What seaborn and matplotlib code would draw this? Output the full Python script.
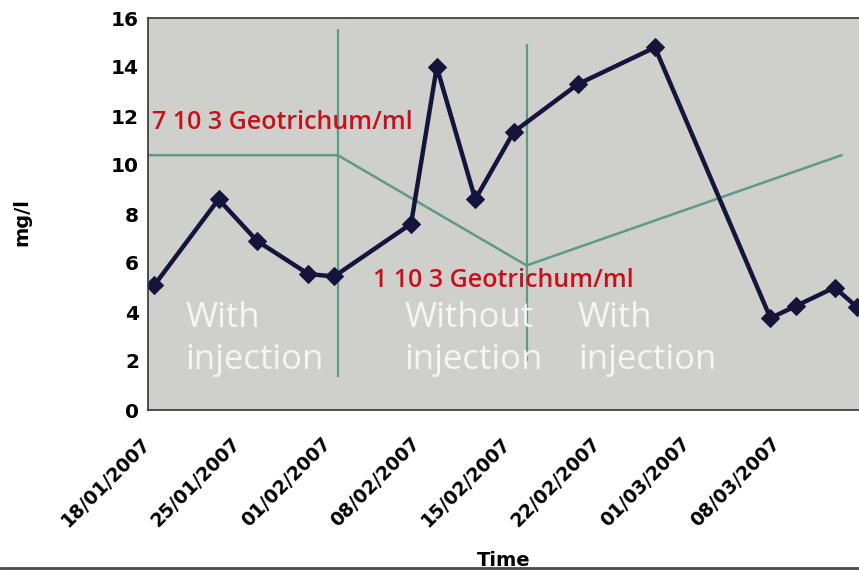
import pandas as pd
import matplotlib
matplotlib.use('Agg')
from matplotlib import pyplot as plt
from matplotlib.lines import Line2D
import seaborn as sns

# measured concentration (mg/l)
sample_dates = ['2007-01-18 12:00', '2007-01-23 12:00', '2007-01-26 12:00', '2007-01-30 12:00',
                '2007-02-01 12:00', '2007-02-07 12:00', '2007-02-09 12:00', '2007-02-12 12:00',
                '2007-02-15 12:00', '2007-02-20 12:00', '2007-02-26 12:00', '2007-03-07 12:00',
                '2007-03-09 12:00', '2007-03-12 12:00', '2007-03-14 06:00']
mgl = [5.1, 8.6, 6.9, 5.55, 5.45, 7.6, 14.0, 8.6, 11.35, 13.3, 14.8, 3.75, 4.25, 5.0, 4.2]

# Geotrichum dosage trend line
trend_dates = ['2007-01-18 00:00', '2007-02-01 19:00', '2007-02-16 12:00', '2007-03-13 01:00']
trend_vals = [10.4, 10.4, 5.9, 10.4]

# phase separators
sep_dates = ['2007-02-01 19:00', '2007-02-16 12:00']
sep_low = [1.35, 2.0]
sep_high = [15.55, 14.95]

tick_dates = ['2007-01-18', '2007-01-25', '2007-02-01', '2007-02-08',
              '2007-02-15', '2007-02-22', '2007-03-01', '2007-03-08']
tick_labels = ['18/01/2007', '25/01/2007', '01/02/2007', '08/02/2007',
               '15/02/2007', '22/02/2007', '01/03/2007', '08/03/2007']

df = pd.DataFrame({'date': pd.to_datetime(sample_dates), 'mgl': mgl})
tr = pd.DataFrame({'date': pd.to_datetime(trend_dates), 'val': trend_vals})

sns.set_style('white')
fig = plt.figure(figsize=(8.59, 5.7), dpi=100)
ax = fig.add_axes([148 / 859, 160 / 570, 1 - 148 / 859, 392 / 570])
ax.set_facecolor('#cfd0cc')

sns.lineplot(x='date', y='val', data=tr, color='#5e9a88', linewidth=1.8, ax=ax)
for d, lo, hi in zip(sep_dates, sep_low, sep_high):
    ax.vlines(pd.Timestamp(d), lo, hi, color='#5e9a88', linewidth=1.6)
sns.lineplot(x='date', y='mgl', data=df, color='#14143c', linewidth=3.2,
             marker='D', markersize=9, markeredgecolor='#14143c', ax=ax)

ax.set_xlim(pd.Timestamp('2007-01-18'), pd.Timestamp('2007-01-18') + pd.Timedelta(days=55.4))
ax.set_ylim(0, 16)
ax.set_yticks(range(0, 17, 2))
ax.set_yticklabels([str(v) for v in range(0, 17, 2)], fontsize=14.5, fontweight='heavy', color='black')
ax.set_xticks(pd.to_datetime(tick_dates))
ax.set_xticklabels(tick_labels, rotation=45, ha='right', va='center', rotation_mode='anchor',
                   fontsize=13.5, fontweight='heavy', color='black')
ax.tick_params(axis='both', direction='out', length=6, width=1, color='#444444')
ax.tick_params(axis='y', pad=0.5)
ax.tick_params(axis='x', pad=16)

for s in ['left', 'bottom', 'top']:
    ax.spines[s].set_color('#333333')
    ax.spines[s].set_linewidth(1.2)
ax.spines['right'].set_visible(False)

ax.set_xlabel('Time', fontsize=14, fontweight='heavy', va='center', color='black')
ax.xaxis.set_label_coords(0.5, -0.385)
ax.set_ylabel('mg/l', fontsize=14, fontweight='heavy', va='center', color='black')
ax.yaxis.set_label_coords(-0.177, 0.48)

red = dict(color='#c8101a', fontsize=18, fontweight='semibold', family=['Open Sans', 'DejaVu Sans'],
           va='center', ha='left')
ax.text(pd.Timestamp('2007-01-18 07:00'), 11.75, '7 10 3 Geotrichum/ml', **red)
ax.text(pd.Timestamp('2007-02-04 12:00'), 5.3, '1 10 3 Geotrichum/ml', **red)

wht = dict(color='#f5f5f3', fontsize=25, family=['Open Sans', 'DejaVu Sans'],
           va='center', ha='left', linespacing=1.3)
ax.text(pd.Timestamp('2007-01-20 22:00'), 2.9, 'With\ninjection', **wht)
ax.text(pd.Timestamp('2007-02-07 00:00'), 2.9, 'Without\ninjection', **wht)
ax.text(pd.Timestamp('2007-02-20 12:00'), 2.9, 'With\ninjection', **wht)

fig.add_artist(Line2D([0, 1], [0.004, 0.004], transform=fig.transFigure, color='#4a4a4a', linewidth=2))

fig.savefig('out.png', dpi=100)
